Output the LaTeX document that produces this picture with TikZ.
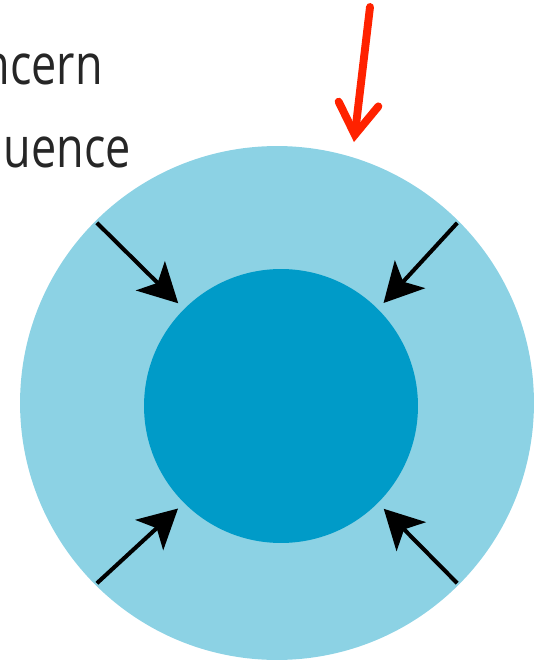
\documentclass[tikz,border=0pt]{standalone}
\usepackage{fontspec}
\setmainfont{Open Sans}
\usetikzlibrary{arrows.meta}
\definecolor{ringblue}{RGB}{140,210,228}
\definecolor{coreblue}{RGB}{0,155,200}
\definecolor{pointred}{RGB}{255,34,0}
\tikzset{
  disc/.style={circle,inner sep=0pt,draw=none},
  label text/.style={anchor=base east,inner sep=0pt,xscale=0.8,transform shape,
    text=black!85,font=\fontsize{32}{38}\selectfont},
  pushin/.style={line width=2.3pt,-{Stealth[length=0.78cm,width=0.82cm,inset=0.2cm]},
    shorten <=0.05cm,shorten >=0.16cm}
}
\begin{document}
\begin{tikzpicture}[x=0.02cm,y=-0.02cm]
  \useasboundingbox (0,0) rectangle (537,668);
  \node[disc,fill=ringblue,minimum size=10.28cm] (outer) at (277,403) {};
  \node[disc,fill=coreblue,minimum size=5.48cm] (inner) at (281,406) {};
  % words cut at the left edge
  \node[label text] (concern) at (103,85) {ncern};
  \node[label text] (influence) at (131,168) {uence};
  \foreach \a in {45,135,225,315} {
    \draw[pushin] (outer.\a) -- (inner.\a);
  }
  \coordinate (redtop) at (370,7);
  \draw[pointred,line width=4.5pt,line cap=round,
    -{Straight Barb[length=0.62cm,width=0.8cm,line cap=round]},shorten >=0.3cm]
    (redtop) -- (outer.73);
\end{tikzpicture}
\end{document}
